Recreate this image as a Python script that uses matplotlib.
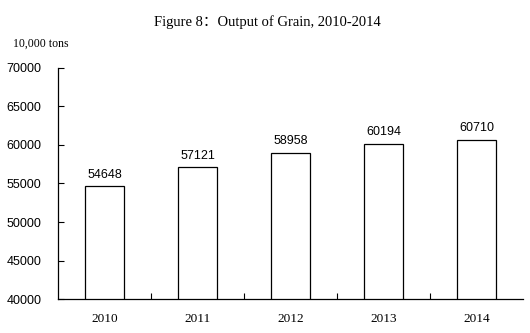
import matplotlib
matplotlib.use("Agg")
import matplotlib.pyplot as plt
import numpy as np

years = ["2010", "2011", "2012", "2013", "2014"]
output = [54648, 57121, 58958, 60194, 60710]
y_ticks = [40000, 45000, 50000, 55000, 60000, 65000, 70000]

serif = ["Liberation Serif", "Noto Sans CJK SC"]
sans = "Liberation Sans"

fig = plt.figure(figsize=(5.30, 3.33), dpi=100)
ax = fig.add_axes([0.1094, 0.1021, 0.8774, 0.6937])

x = np.arange(len(years))
bars = ax.bar(x, output, width=0.41, color="white", edgecolor="black", linewidth=0.9)
for b, v in zip(bars, output):
    ax.annotate(str(v), (b.get_x() + b.get_width() / 2, v), xytext=(0, 4),
                textcoords="offset points", ha="center", va="bottom",
                fontsize=9, family=sans)

ax.set_xlim(-0.5, len(years) - 0.5)
ax.set_ylim(40000, 70000)
ax.set_yticks(y_ticks)
ax.set_yticklabels([str(t) for t in y_ticks], family=sans, fontsize=9)

# boundaries between categories carry the tick marks, year names sit on minor ticks
ax.set_xticks(np.arange(0.5, len(years) - 0.5, 1.0))
ax.set_xticklabels([])
ax.set_xticks(x, minor=True)
ax.set_xticklabels(years, minor=True, family=serif, fontsize=9.5)
ax.tick_params(axis="x", which="major", direction="in", length=4, width=0.8)
ax.tick_params(axis="x", which="minor", length=0, pad=10)
ax.tick_params(axis="y", direction="in", length=4, width=0.8, pad=12)

for side in ["top", "right"]:
    ax.spines[side].set_visible(False)
for side in ["left", "bottom"]:
    ax.spines[side].set_linewidth(0.9)

fig.text(0.505, 0.933, "Figure 8：Output of Grain, 2010-2014", ha="center", va="center",
         family=serif, fontsize=10.5)
fig.text(0.024, 0.868, "10,000 tons", ha="left", va="center", family=serif, fontsize=8.5)

fig.savefig("out.png", dpi=100)
